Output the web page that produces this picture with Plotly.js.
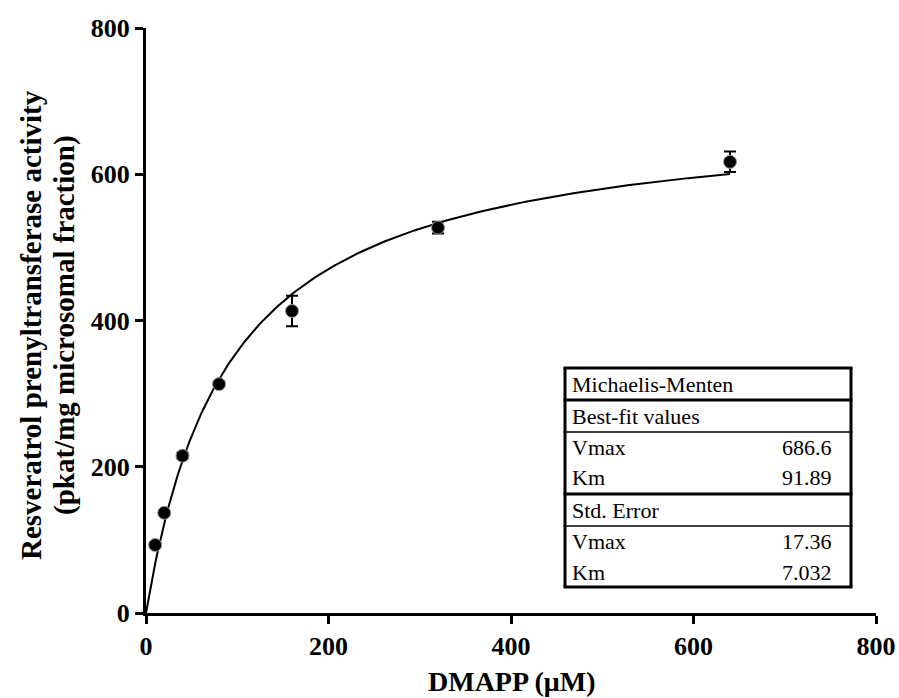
<!DOCTYPE html>
<html>
<head>
<meta charset="utf-8">
<script src="https://cdn.plot.ly/plotly-3.0.1.min.js"></script>
<style>
html,body{margin:0;padding:0;background:#fff;}
#chart{width:899px;height:698px;}
</style>
</head>
<body>
<div id="chart"></div>
<script>
// Data
const dmapp = [10, 20, 40, 80, 160, 320, 640];
const activity = [93, 137, 215, 313, 413, 527, 617];
const activityErr = [3, 3, 4, 4, 21, 8, 14];

// Fit parameters shown in the table
const fitVmax = 686.6;
const fitKm = 91.89;
const tableTitle = "Michaelis-Menten";
const tableSection1 = "Best-fit values";
const tableSection2 = "Std. Error";
const paramNames = ["Vmax", "Km"];
const bestFitValues = ["686.6", "91.89"];
const stdErrorValues = ["17.36", "7.032"];

const xTicks = [0, 200, 400, 600, 800];
const yTicks = [0, 200, 400, 600, 800];
const xTitle = "DMAPP (μM)";
const yTitleLines = ["Resveratrol prenyltransferase activity", "(pkat/mg microsomal fraction)"];

// Michaelis-Menten curve from the fitted parameters
const curveX = [];
const curveY = [];
for (let i = 0; i <= 320; i++) {
  const s = i * 2;
  curveX.push(s);
  curveY.push(fitVmax * s / (fitKm + s));
}

const serif = "Liberation Serif";

// plot area in pixels: x 146..876, y 28..613
const L = 146, R = 876, T = 28, B = 613;
const px = v => (v - L) / (R - L);
const py = v => (B - v) / (B - T);

const tLeft = 565, tRight = 851;
const rows = [368, 400, 432, 494, 526, 587];
const rowW = [3, 3, 1.5, 3, 1.5, 3];

const shapes = [];
rows.forEach((r, i) => {
  shapes.push({type: 'line', xref: 'paper', yref: 'paper',
    x0: px(tLeft - 1.5), x1: px(tRight + 1.5), y0: py(r), y1: py(r),
    line: {color: '#000', width: rowW[i]}});
});
shapes.push({type: 'line', xref: 'paper', yref: 'paper',
  x0: px(tLeft), x1: px(tLeft), y0: py(rows[0]), y1: py(rows[5]),
  line: {color: '#000', width: 3}});
shapes.push({type: 'line', xref: 'paper', yref: 'paper',
  x0: px(tRight), x1: px(tRight), y0: py(rows[0]), y1: py(rows[5]),
  line: {color: '#000', width: 3}});

const tfont = {family: serif, size: 22, color: '#000', weight: 'normal'};
const annotations = [];
function txt(text, x, y, anchor) {
  annotations.push({xref: 'paper', yref: 'paper', x: px(x), y: py(y),
    text: text, showarrow: false, xanchor: anchor, yanchor: 'middle', font: tfont});
}
const textL = 570, textR = 834;
txt(tableTitle, textL, 384, 'left');
txt(tableSection1, textL, 416, 'left');
txt(paramNames[0], textL, 447, 'left');
txt(bestFitValues[0], textR, 447, 'right');
txt(paramNames[1], textL, 478, 'left');
txt(bestFitValues[1], textR, 478, 'right');
txt(tableSection2, textL, 510, 'left');
txt(paramNames[0], textL, 541, 'left');
txt(stdErrorValues[0], textR, 541, 'right');
txt(paramNames[1], textL, 572, 'left');
txt(stdErrorValues[1], textR, 572, 'right');

const titleFont = {family: serif, size: 29, color: '#000', weight: 'bold'};
// axis titles
annotations.push({xref: 'paper', yref: 'paper', x: px(511), y: py(681),
  text: xTitle, showarrow: false, xanchor: 'center', yanchor: 'middle',
  font: {family: serif, size: 28, color: '#000', weight: 'bold'}});
annotations.push({xref: 'paper', yref: 'paper', x: px(31), y: py(325), text: yTitleLines[0],
  showarrow: false, xanchor: 'center', yanchor: 'middle', textangle: -90, font: titleFont});
annotations.push({xref: 'paper', yref: 'paper', x: px(64), y: py(325), text: yTitleLines[1],
  showarrow: false, xanchor: 'center', yanchor: 'middle', textangle: -90, font: titleFont});

const traces = [
  {x: curveX, y: curveY, type: 'scatter', mode: 'lines',
   line: {color: '#000', width: 2}, hoverinfo: 'skip', showlegend: false},
  {x: dmapp, y: activity, type: 'scatter', mode: 'markers',
   marker: {color: '#000', size: 13, symbol: 'circle', line: {color: '#999', width: 1}},
   error_y: {type: 'data', array: activityErr, visible: true, color: '#000', thickness: 2, width: 6},
   showlegend: false, cliponaxis: false}
];

const tickFont = {family: serif, size: 26, color: '#000', weight: 'bold'};
const layout = {
  width: 899, height: 698,
  margin: {l: L, r: 899 - R, t: T, b: 698 - B},
  paper_bgcolor: '#fff', plot_bgcolor: '#fff',
  font: {family: serif, color: '#000'},
  showlegend: false,
  xaxis: {
    range: [0, 800], tickmode: 'array', tickvals: xTicks, ticktext: xTicks.map(String),
    showgrid: false, zeroline: false, showline: true, linecolor: '#000', linewidth: 3,
    ticks: 'outside', ticklen: 8, tickwidth: 3, tickcolor: '#000',
    tickfont: tickFont
  },
  yaxis: {
    range: [0, 800], tickmode: 'array', tickvals: yTicks, ticktext: yTicks.map(String),
    showgrid: false, zeroline: false, showline: true, linecolor: '#000', linewidth: 3,
    ticks: 'outside', ticklen: 8, tickwidth: 3, tickcolor: '#000',
    tickfont: tickFont
  },
  shapes: shapes,
  annotations: annotations
};

Plotly.newPlot('chart', traces, layout, {displayModeBar: false, staticPlot: true});
</script>
</body>
</html>
